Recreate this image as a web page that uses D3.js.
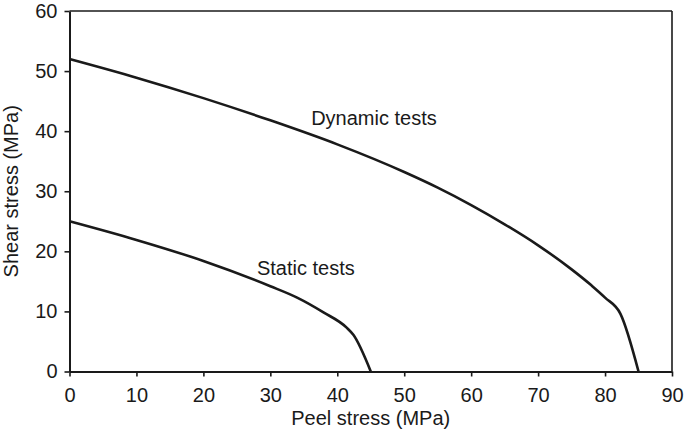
<!DOCTYPE html>
<html><head><meta charset="utf-8">
<script src="https://cdn.jsdelivr.net/npm/d3@7"></script>
<style>body{margin:0;background:#fff}svg{display:block}text{font-family:"Liberation Sans",Arial,sans-serif;fill:#1a1a1a}</style>
</head><body><svg id="c" width="685" height="433"></svg>
<script>
const dynamicX = [0,10,20,30,40,50,55,60,65,70,75,78,80,82.3,85];
const dynamicY = [52,48.9,45.5,41.8,37.8,33.2,30.6,27.7,24.5,21.0,17.0,14.3,12.3,9.6,0];
const staticX = [0,10,20,30,34,38,41.4,42.4,45];
const staticY = [25,21.9,18.4,14.2,12.3,9.8,7.3,6.1,0];
const xTicks = [0,10,20,30,40,50,60,70,80,90];
const yTicks = [0,10,20,30,40,50,60];
const xTitle = "Peel stress (MPa)";
const yTitle = "Shear stress (MPa)";
const labels = [{text:"Dynamic tests", x:36.1, y:41.0},{text:"Static tests", x:28.0, y:16.0}];

const svg = d3.select("#c");
const m = {l:69.5, r:672, t:11, b:371.5};
const x = d3.scaleLinear().domain([0,90]).range([m.l,m.r]);
const y = d3.scaleLinear().domain([0,60]).range([m.b,m.t]);
const ink = "#1a1a1a";

svg.append("line").attr("x1",m.l).attr("x2",m.r).attr("y1",m.t).attr("y2",m.t).attr("stroke",ink).attr("stroke-width",1.6);
svg.append("line").attr("x1",m.r).attr("x2",m.r).attr("y1",m.t).attr("y2",m.b).attr("stroke",ink).attr("stroke-width",1.6);

const xa = svg.append("g").attr("transform",`translate(0,${m.b})`)
  .call(d3.axisBottom(x).tickValues(xTicks).tickSize(5).tickPadding(11).tickSizeOuter(0));
const ya = svg.append("g").attr("transform",`translate(${m.l},0)`)
  .call(d3.axisLeft(y).tickValues(yTicks).tickSize(5).tickPadding(7).tickSizeOuter(0));
[xa,ya].forEach(a=>{
  a.select(".domain").attr("stroke",ink).attr("stroke-width",2);
  a.selectAll(".tick line").attr("stroke",ink).attr("stroke-width",1.6);
  a.selectAll("text").attr("font-size",20).attr("fill",ink).style("font-family","Liberation Sans, Arial, sans-serif");
});

const line = d3.line().x(d=>x(d[0])).y(d=>y(d[1])).curve(d3.curveMonotoneX);
svg.append("path").datum(dynamicX.map((v,i)=>[v,dynamicY[i]])).attr("d",line)
  .attr("fill","none").attr("stroke",ink).attr("stroke-width",2.6);
svg.append("path").datum(staticX.map((v,i)=>[v,staticY[i]])).attr("d",line)
  .attr("fill","none").attr("stroke",ink).attr("stroke-width",2.6);

labels.forEach(l=>svg.append("text").attr("x",x(l.x)).attr("y",y(l.y)).attr("font-size",20).text(l.text));

svg.append("text").attr("x",(m.l+m.r)/2).attr("y",425).attr("text-anchor","middle").attr("font-size",20).text(xTitle);
svg.append("text").attr("transform",`translate(18,${(m.t+m.b)/2}) rotate(-90)`).attr("text-anchor","middle").attr("font-size",20).text(yTitle);
</script></body></html>
